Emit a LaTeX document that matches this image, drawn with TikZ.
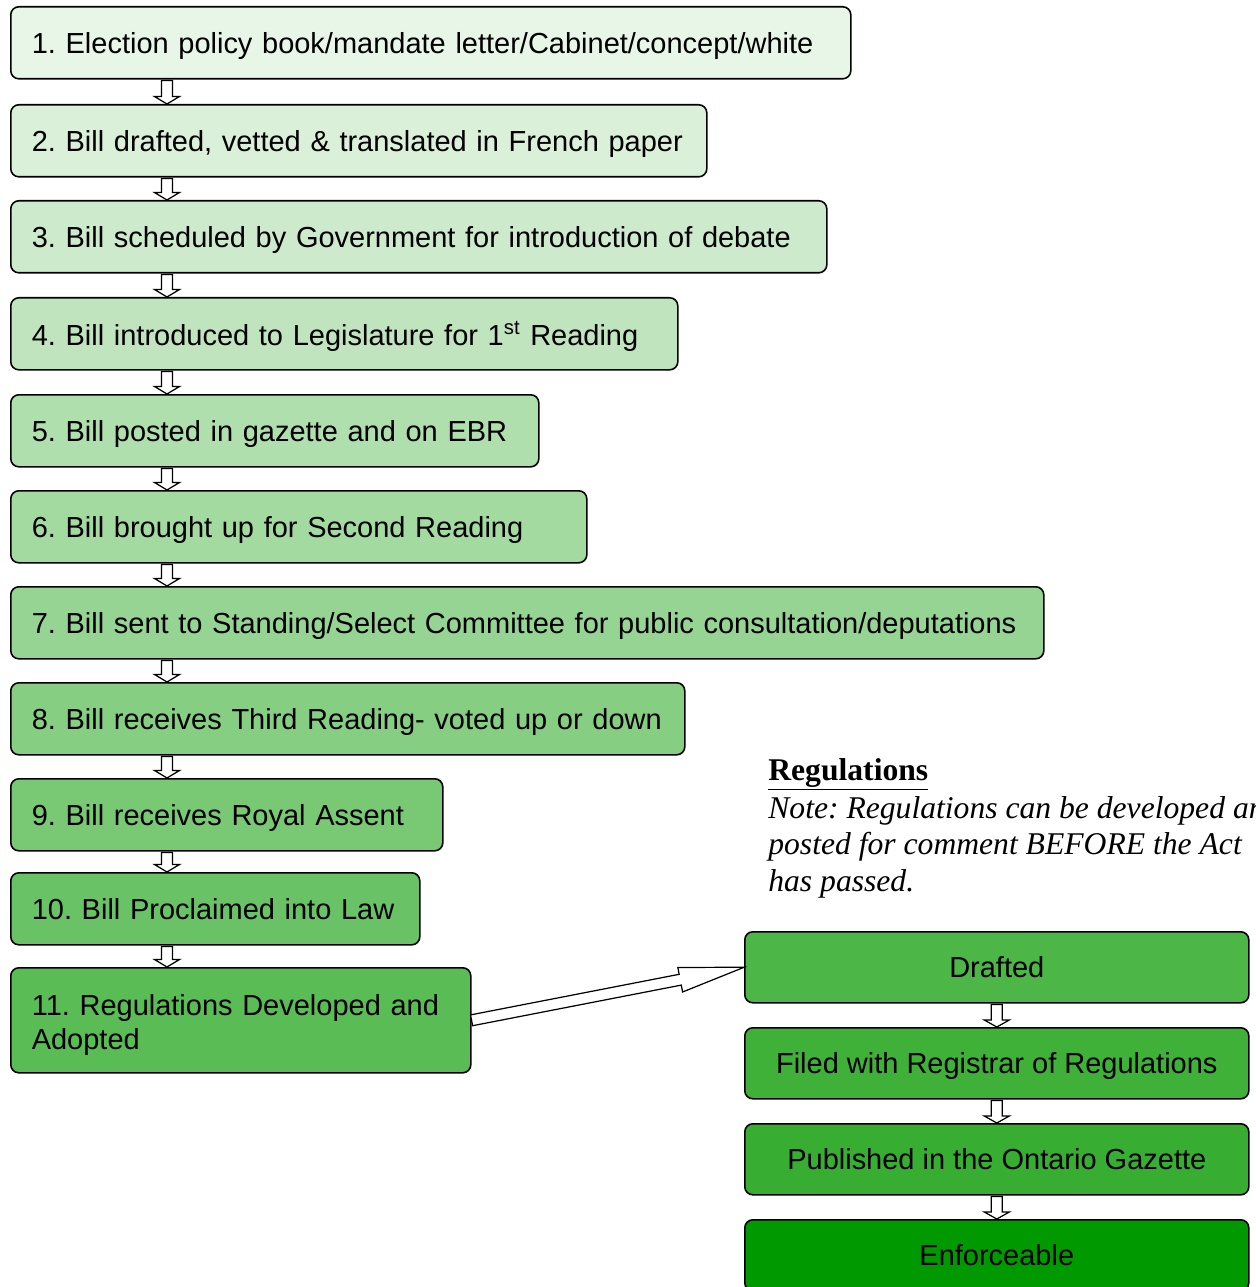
\documentclass[tikz,border=0pt]{standalone}
\usepackage{fontspec}
\setmainfont{Liberation Sans}
\newfontfamily\notefont{Liberation Serif}
\usepackage{tikz}
\usetikzlibrary{calc}
\definecolor{lawgreen}{HTML}{3FB139}
\definecolor{lawdark}{HTML}{009900}
\newlength{\px}
\setlength{\px}{0.02cm}

% hollow block arrow: start #1, tip #2, head length #3
\newcommand{\blockarrow}[3]{%
  \coordinate (ba-h) at ($(#2)!#3!(#1)$);
  \draw[arrowline] ($(#1)!0.11cm!90:(#2)$) -- ($(ba-h)!0.11cm!90:(#2)$)
    -- ($(ba-h)!0.25cm!90:(#2)$) -- (#2) -- ($(ba-h)!0.25cm!-90:(#2)$)
    -- ($(ba-h)!0.11cm!-90:(#2)$) -- ($(#1)!0.11cm!-90:(#2)$) -- cycle;}

\tikzset{
  stepbox/.style={draw, line width=0.9pt, rounded corners=0.16cm, anchor=north west,
    text width=#1, inner xsep=21\px, inner ysep=0pt, minimum height=72\px, align=left,
    text depth=0pt, font=\fontsize{16.5}{19}\selectfont,
    execute at begin node={\hyphenpenalty=10000 }},
  regbox/.style={draw, line width=0.9pt, rounded corners=0.16cm, anchor=north west,
    minimum width=504\px, minimum height=71\px, inner sep=0pt, align=center,
    text depth=0pt, font=\fontsize{16.5}{19}\selectfont},
  arrowline/.style={draw, fill=white, line width=0.7pt, line join=miter},
}

\begin{document}
\frenchspacing
\begin{tikzpicture}[x=0.02cm,y=-0.02cm]
\useasboundingbox (0,0) rectangle (1256,1287);

% passage of the bill
\node[stepbox=798\px, fill=lawgreen!12] (b1) at (10,6) {1. Election policy book/mandate letter/Cabinet/concept/white};
\node[stepbox=654\px, fill=lawgreen!19] (b2) at (10,104) {2. Bill drafted, vetted \& translated in French paper};
\node[stepbox=774\px, fill=lawgreen!26] (b3) at (10,200) {3. Bill scheduled by Government for introduction of debate};
\node[stepbox=625\px, fill=lawgreen!33] (b4) at (10,297) {4. Bill introduced to Legislature for 1\textsuperscript{st} Reading};
\node[stepbox=486\px, fill=lawgreen!41] (b5) at (10,394) {5. Bill posted in gazette and on EBR};
\node[stepbox=534\px, fill=lawgreen!48] (b6) at (10,490) {6. Bill brought up for Second Reading};
\node[stepbox=991\px, fill=lawgreen!55] (b7) at (10,586) {7. Bill sent to Standing/Select Committee for public consultation/deputations};
\node[stepbox=632\px, fill=lawgreen!63] (b8) at (10,682) {8. Bill receives Third Reading- voted up or down};
\node[stepbox=390\px, fill=lawgreen!70] (b9) at (10,778) {9. Bill receives Royal Assent};
\node[stepbox=367\px, fill=lawgreen!78] (b10) at (10,872) {10. Bill Proclaimed into Law};
\node[stepbox=418\px, fill=lawgreen!86, minimum height=105\px, text depth=17pt] (b11) at (10,967) {11. Regulations Developed and\\Adopted};

\foreach \a/\b in {b1/b2,b2/b3,b3/b4,b4/b5,b5/b6,b6/b7,b7/b8,b8/b9,b9/b10,b10/b11}{
  \coordinate (s) at ($(\a.south west)+(157,1)$);
  \coordinate (t) at ($(\b.north west)+(157,0)$);
  \blockarrow{s}{t}{0.15cm}
}

% regulations
\node[anchor=base west, inner sep=0pt, font=\notefont\bfseries\fontsize{18}{20.7}\selectfont] (regtitle) at (768,780) {\underline{Regulations}};
\node[anchor=north west, inner sep=0pt, align=left, font=\notefont\itshape\fontsize{18}{20.7}\selectfont] (regnote) at (768,796)
  {Note: Regulations can be developed and\\posted for comment BEFORE the Act\\has passed.};

\node[regbox, fill=lawgreen!93] (r1) at (744,931) {Drafted};
\node[regbox, fill=lawgreen] (r2) at (744,1027) {Filed with Registrar of Regulations};
\node[regbox, fill=lawgreen!88!lawdark] (r3) at (744,1123) {Published in the Ontario Gazette};
\node[regbox, fill=lawdark] (r4) at (744,1219) {Enforceable};

\foreach \a/\b in {r1/r2,r2/r3,r3/r4}{
  \coordinate (s) at ($(\a.south)+(0,1)$);
  \blockarrow{s}{\b.north}{0.14cm}
}

\blockarrow{b11.east}{r1.west}{1.3cm}
\end{tikzpicture}
\end{document}
